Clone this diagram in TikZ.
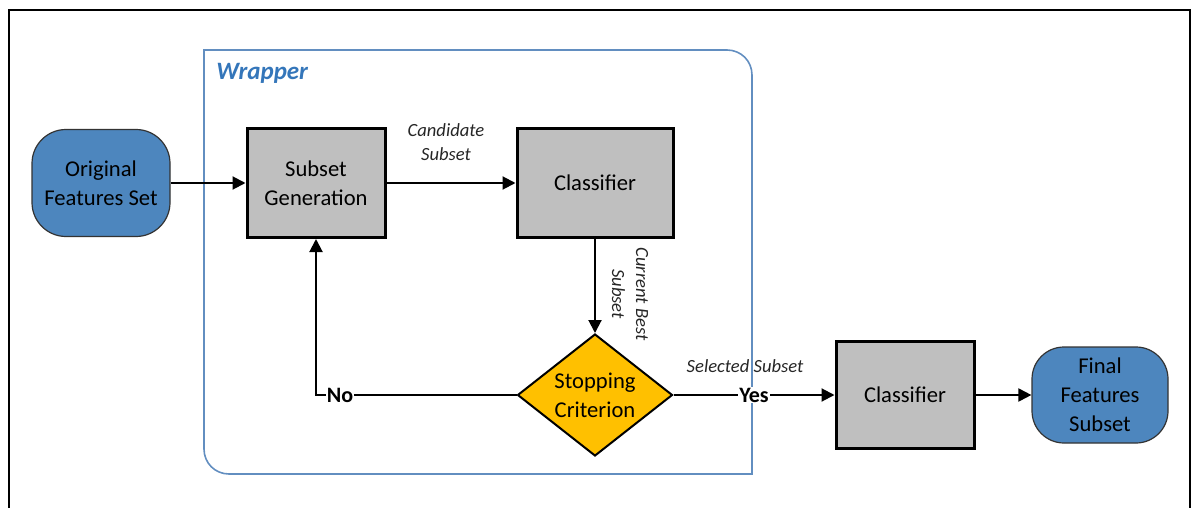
\documentclass[tikz,border=0pt]{standalone}
\usepackage{fontspec}
\setmainfont{Carlito}
\usepackage{tikz}
\usetikzlibrary{arrows.meta,positioning,shapes.geometric}
\definecolor{termblue}{RGB}{77,134,190}
\definecolor{boxgray}{RGB}{191,191,191}
\definecolor{decyellow}{RGB}{255,192,0}
\definecolor{wrapblue}{RGB}{98,142,192}
\definecolor{wraptext}{RGB}{52,118,186}

\begin{document}
\begin{tikzpicture}[x=0.5pt, y=-0.5pt,
    every node/.style={font=\fontsize{11.3}{14.5}\selectfont, align=center},
    term/.style={draw=black!80, line width=0.6pt, fill=termblue, rounded corners=17pt, inner sep=0pt},
    proc/.style={draw, line width=1.5pt, fill=boxgray, inner sep=0pt, minimum height=54.5pt},
    decision/.style={diamond, draw, line width=1pt, fill=decyellow, inner sep=0pt, aspect=1.27, minimum width=77.5pt, minimum height=61pt},
    arr/.style={line width=1pt, -{Triangle[length=6.5pt,width=6.5pt]}},
    lbl/.style={font=\fontsize{9.3}{12}\selectfont\itshape, text=black!85},
    yesno/.style={font=\fontsize{11}{13}\selectfont\bfseries, fill=white, inner sep=0.5pt}]
  \useasboundingbox (0,0) rectangle (1193,508);
  % frame and wrapper
  \draw[line width=1.25pt] (9,515) -- (9,10) -- (1190,10) -- (1190,515);
  \draw[wrapblue, line width=0.8pt] (204,50) -- (727,50) .. controls (741,50) and (752,61) .. (752,75)
    -- (752,474) -- (229,474) .. controls (215,474) and (204,463) .. (204,449) -- cycle;
  \node[font=\fontsize{12.5}{14}\selectfont\bfseries\itshape, text=wraptext, anchor=west, inner sep=0pt] (wraplbl) at (216,73) {Wrapper};

  % blocks
  \node[term, minimum width=69pt, minimum height=53.5pt] (orig) at (101,183) {Original\\Features Set};
  \node[proc, minimum width=69pt] (subgen) at (316,183) {Subset\\Generation};
  \node[proc, minimum width=78pt] (clf1) at (595,183) {Classifier};
  \node[decision] (stop) at (595,395) {Stopping\\Criterion};
  \node[proc, minimum width=69pt, minimum height=53.5pt] (clf2) at (905,395) {Classifier};
  \node[term, minimum width=68pt, minimum height=48pt, rounded corners=16pt] (final) at (1100,395) {Final\\Features\\Subset};

  % connectors
  \draw[arr] (orig) -- (subgen);
  \draw[arr] (subgen) -- (clf1);
  \draw[arr] (clf1.south) -- (stop.north);
  \draw[arr] (stop.west) -| node[yesno, pos=0.44] (nolbl) {No} (subgen.south);
  \draw[arr] (stop.east) -- node[yesno] (yeslbl) {Yes} (clf2.west);
  \draw[arr] (clf2) -- (final);

  % edge labels
  \node[lbl] (candlbl) at (446,142) {Candidate\\Subset};
  \node[lbl, rotate=-90] (currlbl) at (630,294) {Current Best\\Subset};
  \node[lbl] (sellbl) at (745,366) {Selected Subset};
\end{tikzpicture}
\end{document}
